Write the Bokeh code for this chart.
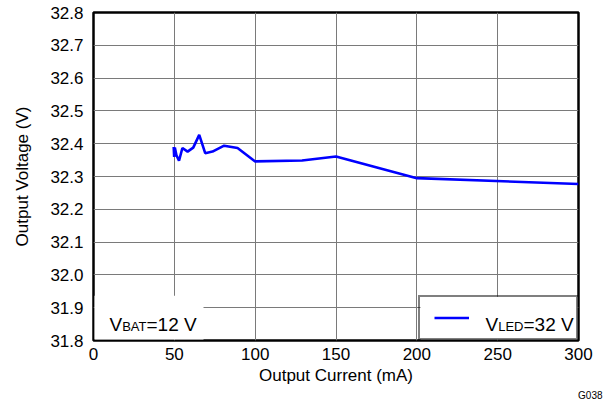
from bokeh.plotting import figure
from bokeh.models import (FixedTicker, Label, BoxAnnotation, Legend, LegendItem,
                          NumeralTickFormatter, Title)
from bokeh.core.properties import value
from bokeh.embed import file_html
from bokeh.resources import INLINE

# ---- data ----
current_ma = [49.6, 49.9, 50.3, 51.3, 52.9, 55.0, 58.2, 61.7, 65.4, 69.1,
              73.6, 80.8, 89.1, 100.0, 129.0, 150.0, 200.0, 300.0]
voltage_v = [32.390, 32.360, 32.388, 32.365, 32.348, 32.387, 32.376, 32.388,
             32.427, 32.371, 32.376, 32.394, 32.387, 32.346, 32.349, 32.361,
             32.295, 32.277]
x_ticks = [0, 50, 100, 150, 200, 250, 300]
y_ticks = [31.8, 31.9, 32.0, 32.1, 32.2, 32.3, 32.4, 32.5, 32.6, 32.7, 32.8]

FONT = "Liberation Sans"

p = figure(width=611, height=400, output_backend="svg", toolbar_location=None,
           x_range=(0, 300), y_range=(31.8, 32.8),
           min_border_left=93, min_border_right=33, min_border_top=12,
           min_border_bottom=59)

p.outline_line_color = "black"
p.outline_line_width = 2.5
p.background_fill_color = "white"
p.border_fill_color = "white"

for ax in (p.xaxis[0], p.yaxis[0]):
    ax.axis_line_color = None
    ax.major_tick_in = 0
    ax.major_tick_out = 0
    ax.minor_tick_line_color = None
    ax.major_label_text_font = FONT
    ax.major_label_text_font_size = "17px"
    ax.major_label_text_color = "black"
    ax.axis_label_text_font = FONT
    ax.axis_label_text_font_size = "17px"
    ax.axis_label_text_font_style = "normal"
    ax.axis_label_text_color = "black"

p.xaxis.ticker = FixedTicker(ticks=x_ticks)
p.yaxis.ticker = FixedTicker(ticks=y_ticks)
p.yaxis.formatter = NumeralTickFormatter(format="0.0")
p.xaxis.axis_label = "Output Current (mA)"
p.yaxis.axis_label = "Output Voltage (V)"
p.xaxis.major_label_standoff = 7
p.yaxis.major_label_standoff = 10
p.xaxis.axis_label_standoff = 3
p.yaxis.axis_label_standoff = 15

p.xgrid.ticker = FixedTicker(ticks=x_ticks)
p.ygrid.ticker = FixedTicker(ticks=y_ticks)
for g in (p.xgrid[0], p.ygrid[0]):
    g.grid_line_color = "#7a7a7a"
    g.grid_line_width = 1

r = p.line(current_ma, voltage_v, line_color="#0000ff", line_width=2.6)

# page-pixel -> data helpers (frame on page: left 93, right 578, top 12, bottom 341)
def dx(px):
    return (px - 93.0) / (578.0 - 93.0) * 300.0

def dy(py):
    return 32.8 - (py - 12.0) / (341.0 - 12.0) * 1.0

# white patches that hide the grid behind the note and the legend
p.add_layout(BoxAnnotation(left=dx(94), right=dx(203), bottom=dy(340), top=dy(296),
                           fill_color="white", fill_alpha=1.0, line_color=None,
                           level="underlay"))
p.add_layout(BoxAnnotation(left=dx(420), right=dx(577), bottom=dy(340), top=dy(297),
                           fill_color="white", fill_alpha=1.0, line_color=None,
                           level="underlay"))

legend = Legend(items=[LegendItem(label=value(" "), renderers=[r])],
                location="bottom_right", margin=0, padding=14, spacing=0,
                glyph_width=35, glyph_height=13, label_height=13,
                label_width=78, label_standoff=15,
                label_text_font_size="8px",
                border_line_color="black", border_line_width=2,
                background_fill_alpha=0.0)
p.add_layout(legend)

def txt(px, py, s, size, align="left"):
    p.add_layout(Label(x=dx(px), y=dy(py), text=s, text_font=FONT,
                       text_font_size=size, text_color="black",
                       text_baseline="alphabetic", text_align=align,
                       level="overlay"))

# V_BAT=12 V
txt(109, 325, "V", "19px")
txt(121.7, 327, "BAT", "13px")
txt(146, 325, "=12 V", "19px")
# V_LED=32 V
txt(485, 325, "V", "19px")
txt(497.7, 327, "LED", "13px")
txt(523, 325, "=32 V", "19px")

# figure id, below the x axis at the right
p.add_layout(Title(text="G038", align="right", offset=-24, standoff=0,
                   text_font=FONT, text_font_size="10px",
                   text_font_style="normal", text_color="black"), "below")

open("out.html", "w").write(file_html(p, INLINE))
